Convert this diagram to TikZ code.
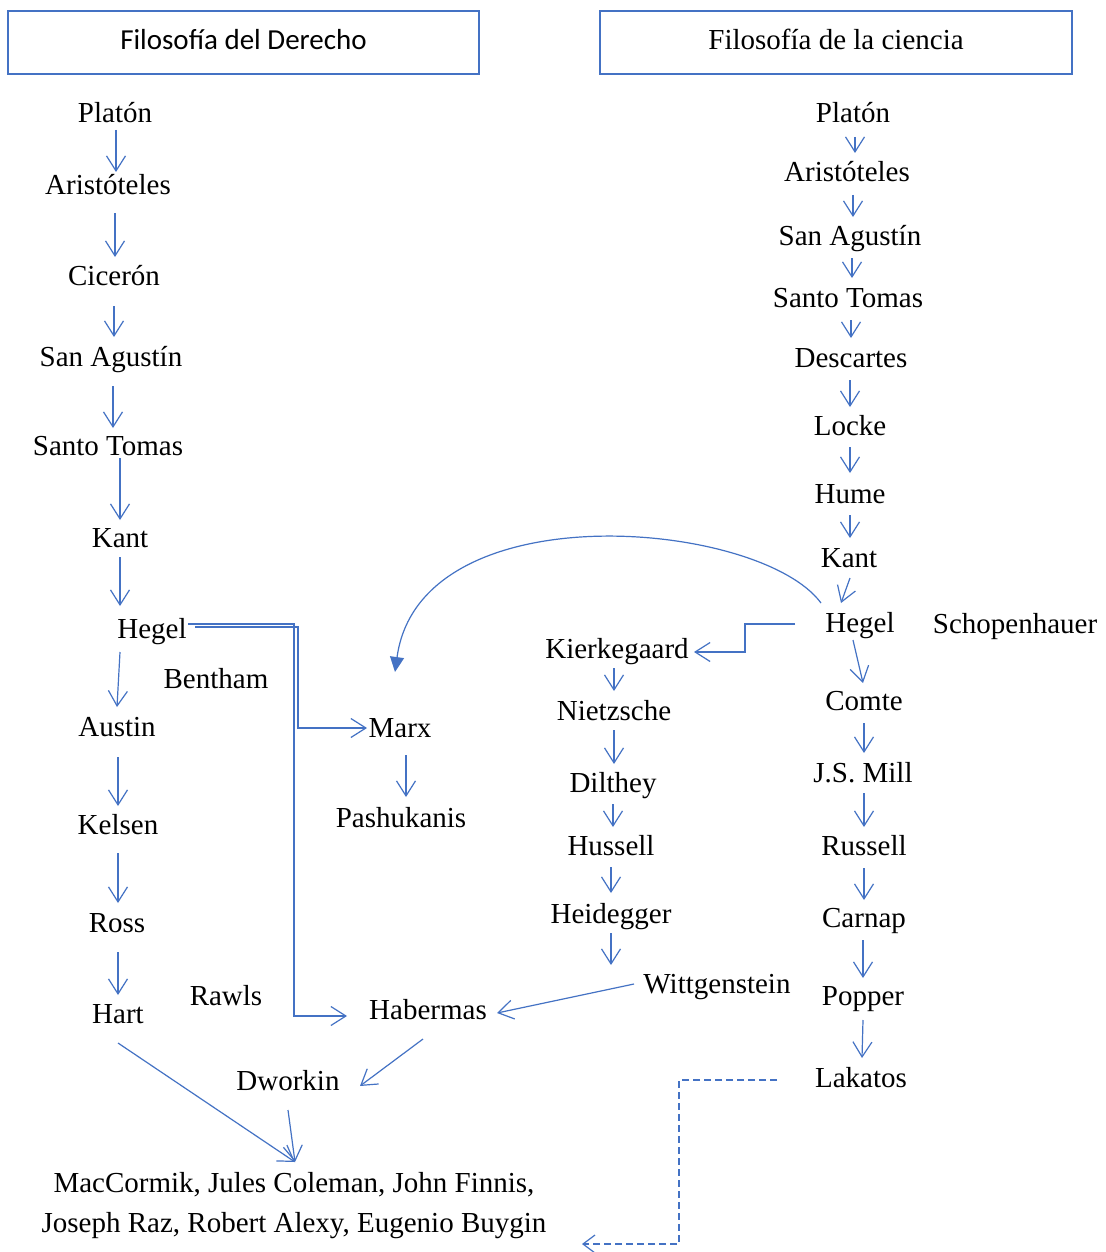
\documentclass[tikz,border=0pt]{standalone}
\usepackage{fontspec}
\setmainfont{Liberation Serif}
\newfontfamily\hdfont{Carlito}
\usetikzlibrary{arrows.meta}
\definecolor{wblue}{HTML}{4472C4}
\tikzset{
  lbl/.style={anchor=base, inner sep=0pt, font=\fontsize{29}{34}\selectfont},
  hdr/.style={draw=wblue, line width=2.2pt, minimum width=471pt, minimum height=63pt,
    inner sep=0pt, text height=20pt, text depth=6pt, font=\fontsize{29}{34}\selectfont},
  arr/.style={draw=wblue, line width=1.2pt, -{Straight Barb[length=15pt,width=19pt,line width=1.2pt]}},
  farr/.style={draw=wblue, line width=1.2pt, -{Triangle[length=15pt,width=14pt]}},
  darr/.style={draw=wblue, line width=1.2pt, dash pattern=on 7pt off 4pt,
    -{Straight Barb[length=12pt,width=18pt,line width=1.2pt]}}
}
\begin{document}
\begin{tikzpicture}[x=1pt,y=-1pt]
\useasboundingbox (0,0) rectangle (1105,1252);
\fill[white] (0,0) rectangle (1105,1252);

% headers
\node[hdr] (hL) at (243.5,42.5) {\hdfont Filosofía del Derecho};
\node[hdr, minimum width=472pt] (hR) at (836,42.5) {Filosofía de la ciencia};

% left column
\node[lbl] (lPlaton) at (115,123) {Platón};
\node[lbl] (lArist) at (108,194) {Aristóteles};
\node[lbl] (lCic) at (114,285) {Cicerón};
\node[lbl] (lSanA) at (111,366) {San Agustín};
\node[lbl] (lSanT) at (108,455) {Santo Tomas};
\node[lbl] (lKant) at (120,547) {Kant};
\node[lbl] (lHegel) at (152,638) {Hegel};
\node[lbl] (Bentham) at (216,688) {Bentham};
\node[lbl] (Austin) at (117,736) {Austin};
\node[lbl] (Kelsen) at (118,834) {Kelsen};
\node[lbl] (Ross) at (117,932) {Ross};
\node[lbl] (Hart) at (118,1023) {Hart};
\node[lbl] (Rawls) at (226,1005) {Rawls};
\node[lbl] (Marx) at (400,737) {Marx};
\node[lbl] (Pash) at (401,827) {Pashukanis};
\node[lbl] (Haber) at (428,1019) {Habermas};
\node[lbl] (Dwork) at (288,1090) {Dworkin};
\node[lbl] (mac1) at (294,1192) {MacCormik, Jules Coleman, John Finnis,};
\node[lbl] (mac2) at (294,1232) {Joseph Raz, Robert Alexy, Eugenio Buygin};

% right column
\node[lbl] (rPlaton) at (853,123) {Platón};
\node[lbl] (rArist) at (847,182) {Aristóteles};
\node[lbl] (rSanA) at (850,245) {San Agustín};
\node[lbl] (rSanT) at (848,307) {Santo Tomas};
\node[lbl] (Desc) at (851,367) {Descartes};
\node[lbl] (Locke) at (850,435) {Locke};
\node[lbl] (Hume) at (850,503) {Hume};
\node[lbl] (rKant) at (849,567) {Kant};
\node[lbl] (rHegel) at (860,632) {Hegel};
\node[lbl] (Schop) at (1015,633) {Schopenhauer};
\node[lbl] (Kier) at (617,658) {Kierkegaard};
\node[lbl] (Nietz) at (614,720) {Nietzsche};
\node[lbl] (Dilt) at (613,792) {Dilthey};
\node[lbl] (Huss) at (611,855) {Hussell};
\node[lbl] (Heid) at (611,923) {Heidegger};
\node[lbl] (Witt) at (717,993) {Wittgenstein};
\node[lbl] (Comte) at (864,710) {Comte};
\node[lbl] (Mill) at (863,782) {J.S. Mill};
\node[lbl] (Russ) at (864,855) {Russell};
\node[lbl] (Carn) at (864,927) {Carnap};
\node[lbl] (Popp) at (863,1005) {Popper};
\node[lbl] (Lak) at (861,1087) {Lakatos};

% left arrows
\draw[arr] ([shift={(1,7)}]lPlaton.base) -- ([shift={(8,-22)}]lArist.base);
\draw[arr] ([shift={(7,19)}]lArist.base) -- ([shift={(1,-28)}]lCic.base);
\draw[arr] ([shift={(0,21)}]lCic.base) -- ([shift={(3,-29)}]lSanA.base);
\draw[arr] ([shift={(2,20)}]lSanA.base) -- ([shift={(5,-27)}]lSanT.base);
\draw[arr] ([shift={(12,3)}]lSanT.base) -- ([shift={(0,-27)}]lKant.base);
\draw[arr] ([shift={(0,10)}]lKant.base) -- ([shift={(-32,-32)}]lHegel.base);
\draw[arr] ([shift={(-32,14)}]lHegel.base) -- ([shift={(0,-29)}]Austin.base);
\draw[arr] ([shift={(1,21)}]Austin.base) -- ([shift={(0,-28)}]Kelsen.base);
\draw[arr] ([shift={(0,19)}]Kelsen.base) -- ([shift={(1,-29)}]Ross.base);
\draw[arr] ([shift={(1,20)}]Ross.base) -- ([shift={(0,-28)}]Hart.base);
\draw[arr] ([shift={(0,20)}]Hart.base) -- ([shift={(1,-30)}]mac1.base);
\draw[arr] ([shift={(0,20)}]Dwork.base) -- ([shift={(1,-30)}]mac1.base);
\draw[arr] ([shift={(-5,20)}]Haber.base) -- ([shift={(72,-4)}]Dwork.base);
\draw[arr] ([shift={(-83,-9)}]Witt.base) -- ([shift={(69,-6)}]Haber.base);
\draw[arr] ([shift={(6,18)}]Marx.base) -- ([shift={(5,-30)}]Pash.base);
\draw[arr] ([shift={(43,-11)}]lHegel.base) -- ++(103,0) |- ([shift={(-33,-9)}]Marx.base);
\draw[arr] ([shift={(36,-14)}]lHegel.base) -- ++(106,0) |- ([shift={(-81,-3)}]Haber.base);

% right arrows
\draw[arr] ([shift={(2,14)}]rPlaton.base) -- ([shift={(8,-29)}]rArist.base);
\draw[arr] ([shift={(6,13)}]rArist.base) -- ([shift={(3,-28)}]rSanA.base);
\draw[arr] ([shift={(2,13)}]rSanA.base) -- ([shift={(4,-29)}]rSanT.base);
\draw[arr] ([shift={(3,13)}]rSanT.base) -- ([shift={(0,-29)}]Desc.base);
\draw[arr] ([shift={(-1,13)}]Desc.base) -- ([shift={(0,-28)}]Locke.base);
\draw[arr] ([shift={(0,12)}]Locke.base) -- ([shift={(0,-30)}]Hume.base);
\draw[arr] ([shift={(0,12)}]Hume.base) -- ([shift={(1,-29)}]rKant.base);
\draw[arr] ([shift={(1,11)}]rKant.base) -- ([shift={(-19,-29)}]rHegel.base);
\draw[arr] ([shift={(-7,8)}]rHegel.base) -- ([shift={(-1,-27)}]Comte.base);
\draw[arr] ([shift={(0,13)}]Comte.base) -- ([shift={(1,-29)}]Mill.base);
\draw[arr] ([shift={(1,11)}]Mill.base) -- ([shift={(0,-28)}]Russ.base);
\draw[arr] ([shift={(0,13)}]Russ.base) -- ([shift={(0,-27)}]Carn.base);
\draw[arr] ([shift={(-1,13)}]Carn.base) -- ([shift={(0,-27)}]Popp.base);
\draw[arr] ([shift={(0,15)}]Popp.base) -- ([shift={(1,-29)}]Lak.base);
\draw[arr] ([shift={(-65,-8)}]rHegel.base) -- ++(-50,0) |- ([shift={(77,-6)}]Kier.base);
\draw[arr] ([shift={(-3,10)}]Kier.base) -- ([shift={(0,-29)}]Nietz.base);
\draw[arr] ([shift={(0,10)}]Nietz.base) -- ([shift={(1,-28)}]Dilt.base);
\draw[arr] ([shift={(0,12)}]Dilt.base) -- ([shift={(2,-28)}]Huss.base);
\draw[arr] ([shift={(0,12)}]Huss.base) -- ([shift={(0,-30)}]Heid.base);
\draw[arr] ([shift={(0,10)}]Heid.base) -- ([shift={(-106,-28)}]Witt.base);

% curve Hegel -> Marx
\draw[farr] ([shift={(-39,-29)}]rHegel.base) .. controls +(-61,-83) and +(25,-182) .. ([shift={(-5,-65)}]Marx.base);

% dashed Lakatos
\draw[darr] ([shift={(-84,-7)}]Lak.base) -- ++(-98,0) |- ([shift={(288,12)}]mac2.base);
\end{tikzpicture}
\end{document}
